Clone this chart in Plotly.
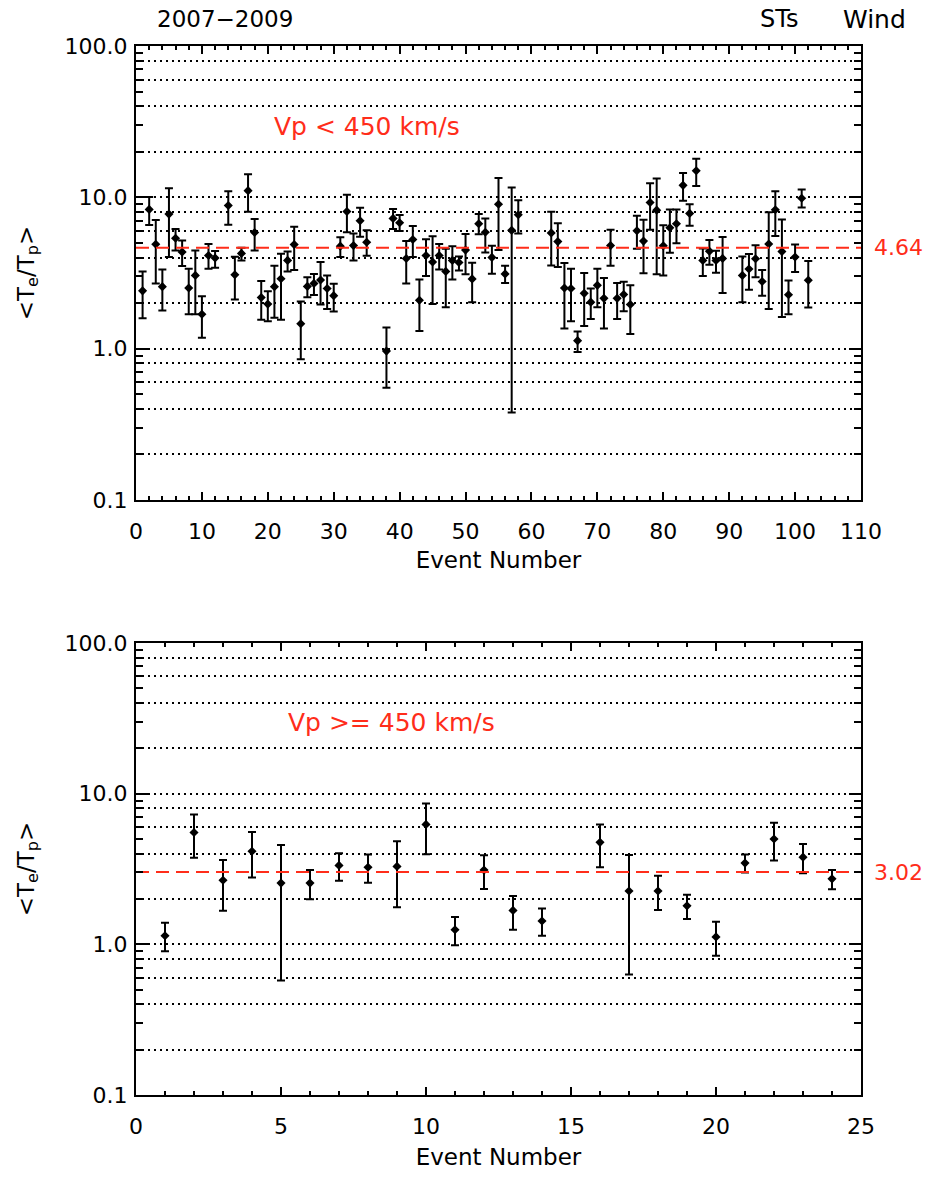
import plotly.graph_objects as go
import math

# ---------------- data: top panel (Vp < 450 km/s) ----------------
top_event = [1, 2, 3, 4, 5, 6, 7, 8, 9, 10, 11, 12,
             14, 15, 16, 17, 18, 19, 20, 21, 22, 23, 24, 25, 26, 27, 28, 29, 30, 31, 32, 33, 34, 35,
             38, 39, 40, 41, 42, 43, 44, 45, 46, 47, 48, 49, 50, 51, 52, 53, 54, 55, 56, 57, 58,
             63, 64, 65, 66, 67, 68, 69, 70, 71, 72, 73, 74, 75, 76, 77, 78, 79, 80, 81, 82, 83, 84, 85, 86, 87, 88, 89,
             92, 93, 94, 95, 96, 97, 98, 99, 100, 101, 102]
top_value = [2.41, 8.32, 4.90, 2.57, 7.75, 5.37, 4.35, 2.52, 3.05, 1.69, 4.13, 3.97,
             8.83, 3.08, 4.26, 11.07, 5.85, 2.18, 1.97, 2.57, 2.90, 3.83, 4.87, 1.46, 2.58, 2.70, 2.84, 2.50, 2.24, 4.76, 8.07, 4.80, 7.00, 5.05,
             0.964, 7.26, 6.79, 3.94, 5.26, 2.09, 4.13, 3.74, 4.13, 3.24, 3.83, 3.71, 4.48, 2.89, 6.69, 5.88, 4.01, 9.01, 3.12, 6.05, 7.67,
             5.82, 5.10, 2.52, 2.50, 1.13, 2.32, 2.03, 2.62, 2.15, 4.80, 2.15, 2.28, 1.96, 6.02, 5.14, 9.24, 8.23, 4.78, 6.30, 6.69, 12.0, 7.83, 15.0, 3.83, 4.41, 3.83, 3.95,
             3.05, 3.36, 3.93, 2.78, 4.92, 8.27, 4.38, 2.27, 4.03, 9.87, 2.83]
top_upper = [3.24, 10.06, 7.08, 3.33, 11.5, 6.18, 5.18, 3.38, 4.45, 2.22, 4.92, 4.42,
             10.96, 4.05, 4.64, 14.2, 7.18, 2.80, 2.40, 3.53, 4.24, 4.39, 6.40, 2.05, 2.96, 3.11, 3.74, 3.05, 2.69, 5.45, 10.4, 5.76, 8.52, 6.05,
             1.38, 8.36, 7.63, 5.14, 6.47, 2.86, 5.28, 5.53, 4.92, 4.57, 4.76, 4.07, 5.73, 3.70, 7.75, 7.26, 4.78, 13.4, 3.53, 11.6, 9.57,
             8.02, 6.73, 3.68, 3.38, 1.30, 3.16, 2.50, 3.38, 2.93, 6.11, 2.72, 2.77, 2.62, 7.55, 7.11, 12.4, 13.3, 6.53, 8.32, 8.32, 14.5, 9.01, 18.0, 4.59, 5.23, 4.43, 5.47,
             4.07, 4.22, 4.83, 3.31, 7.98, 10.96, 7.15, 2.82, 4.87, 11.25, 3.79]
top_lower = [1.59, 6.56, 2.70, 1.79, 4.03, 4.45, 3.52, 1.69, 1.69, 1.18, 3.38, 3.43,
             6.59, 2.11, 3.83, 8.02, 4.45, 1.55, 1.52, 1.60, 1.55, 3.24, 3.31, 0.85, 2.19, 2.26, 1.96, 1.83, 1.76, 4.03, 5.88, 3.83, 5.50, 4.11,
             0.552, 6.18, 6.00, 2.70, 4.03, 1.31, 3.02, 1.97, 3.34, 1.88, 2.87, 3.29, 3.10, 2.03, 5.70, 4.32, 3.13, 4.49, 2.72, 0.378, 5.76,
             3.55, 3.46, 1.36, 1.52, 0.95, 1.41, 1.57, 1.88, 1.36, 3.53, 1.57, 1.77, 1.25, 4.57, 3.15, 6.11, 3.10, 3.05, 4.30, 4.98, 9.48, 6.50, 11.9, 3.02, 3.59, 3.18, 2.33,
             2.03, 2.45, 2.96, 2.24, 1.83, 5.56, 1.62, 1.69, 3.21, 8.57, 1.87]
top_mean = 4.64

# ---------------- data: bottom panel (Vp >= 450 km/s) ----------------
bot_event = [1, 2, 3, 4, 5, 6, 7, 8, 9, 10, 11, 12, 13, 14, 16, 17, 18, 19, 20, 21, 22, 23, 24]
bot_value = [1.14, 5.53, 2.66, 4.15, 2.55, 2.55, 3.34, 3.25, 3.29, 6.25, 1.25, 3.11,
             1.68, 1.43, 4.75, 2.26, 2.26, 1.80, 1.12, 3.46, 5.00, 3.79, 2.72]
bot_upper = [1.39, 7.27, 3.63, 5.56, 4.56, 3.11, 4.02, 3.94, 4.83, 8.59, 1.52, 3.90,
             2.09, 1.73, 6.25, 3.92, 2.85, 2.13, 1.41, 3.94, 6.41, 4.63, 3.11]
bot_lower = [0.90, 3.75, 1.67, 2.78, 0.576, 1.99, 2.64, 2.56, 1.76, 3.96, 0.985, 2.33,
             1.25, 1.14, 3.25, 0.63, 1.69, 1.47, 0.84, 3.00, 3.60, 2.96, 2.32]
bot_mean = 3.02

# ---------------- axis definitions ----------------
top_xrange = [0, 110]
top_xticks = list(range(0, 111, 10))
bot_xrange = [0, 25]
bot_xticks = list(range(0, 26, 5))
y_major = [0.1, 1, 10, 100]
y_major_text = ["0.1", "1.0", "10.0", "100.0"]
y_minor = [m * d for d in (0.1, 1, 10) for m in range(2, 10)]
y_grid = [m * d for d in (0.1, 1, 10) for m in (2, 4, 6, 8)] + [1, 10]

FONT = "DejaVu Sans"
RED = "#ff2d1a"
BLACK = "black"

fig = go.Figure()


def add_panel(ev, val, up, lo, mean, xrange_, xa, ya, ygrid):
    # invisible trace so that the dotted-grid overlay axis gets drawn
    fig.add_trace(go.Scatter(x=[None], y=[None], xaxis=xa, yaxis=ygrid, mode="markers",
                             showlegend=False, hoverinfo="skip"))
    fig.add_trace(go.Scatter(
        x=ev, y=val, mode="markers", xaxis=xa, yaxis=ya,
        marker=dict(symbol="diamond", size=7, color=BLACK),
        error_y=dict(type="data", symmetric=False,
                     array=[u - v for u, v in zip(up, val)],
                     arrayminus=[v - l for v, l in zip(val, lo)],
                     color=BLACK, thickness=2, width=4),
        showlegend=False, hoverinfo="x+y"))
    fig.add_trace(go.Scatter(
        x=xrange_, y=[mean, mean], mode="lines", xaxis=xa, yaxis=ya,
        line=dict(color=RED, width=2, dash="13px,7px"),
        showlegend=False, hoverinfo="skip"))


add_panel(top_event, top_value, top_upper, top_lower, top_mean, top_xrange, "x", "y", "y3")
add_panel(bot_event, bot_value, bot_upper, bot_lower, bot_mean, bot_xrange, "x2", "y2", "y4")

top_dom = [0.5672, 1.0]
bot_dom = [0.0, 0.4309]


def xaxis_def(rng, ticks, minor_dtick, anchor, standoff):
    return dict(range=rng, anchor=anchor, domain=[0, 1], tickmode="array", tickvals=ticks,
                ticks="inside", ticklen=8, tickwidth=1.5, tickcolor=BLACK,
                minor=dict(dtick=minor_dtick, ticks="inside", ticklen=4, tickwidth=1.5, tickcolor=BLACK),
                showline=True, linewidth=2, linecolor=BLACK, mirror="ticks",
                showgrid=False, zeroline=False,
                tickfont=dict(family=FONT, size=22, color=BLACK), ticklabelstandoff=11,
                title=dict(text="Event Number", font=dict(family=FONT, size=23, color=BLACK),
                           standoff=standoff))


def yaxis_def(dom, anchor):
    return dict(type="log", range=[-1, 2], domain=dom, anchor=anchor,
                tickmode="array", tickvals=y_major, ticktext=y_major_text,
                ticks="inside", ticklen=12, tickwidth=1.5, tickcolor=BLACK,
                minor=dict(tickmode="array", tickvals=y_minor, ticks="inside", ticklen=7,
                           tickwidth=1.5, tickcolor=BLACK, showgrid=False),
                showline=True, linewidth=2, linecolor=BLACK, mirror="ticks",
                showgrid=False, zeroline=False,
                tickfont=dict(family=FONT, size=22, color=BLACK), ticklabelstandoff=2,
                title=dict(text="&lt;T<sub>e</sub>/T<sub>p</sub>&gt;",
                           font=dict(family=FONT, size=23, color=BLACK), standoff=24))


def grid_def(over, anchor):
    return dict(type="log", range=[-1, 2], overlaying=over, anchor=anchor,
                tickmode="array", tickvals=y_grid, ticks="", showticklabels=False,
                showline=False, zeroline=False, showgrid=True,
                gridcolor=BLACK, gridwidth=1.6, griddash="2px,4px")


fig.update_layout(
    width=932, height=1178,
    margin=dict(l=136, r=71, t=46, b=76),
    paper_bgcolor="white", plot_bgcolor="white",
    font=dict(family=FONT, color=BLACK),
    xaxis=xaxis_def(top_xrange, top_xticks, 2, "y", 8),
    yaxis=yaxis_def(top_dom, "x"),
    xaxis2=xaxis_def(bot_xrange, bot_xticks, 1, "y2", 10),
    yaxis2=yaxis_def(bot_dom, "x2"),
    yaxis3=grid_def("y", "x"),
    yaxis4=grid_def("y2", "x2"),
)

TITLE_Y = 1.0256
ann = []
ann.append(dict(text="2007−2009", xref="paper", yref="paper", x=0.026, y=TITLE_Y,
                xanchor="left", yanchor="middle", showarrow=False,
                font=dict(family=FONT, size=23, color=BLACK)))
ann.append(dict(text="STs", xref="paper", yref="paper", x=0.916, y=TITLE_Y,
                xanchor="right", yanchor="middle", showarrow=False,
                font=dict(family=FONT, size=24, color=BLACK)))
ann.append(dict(text="Wind", xref="paper", yref="paper", x=1.065, y=TITLE_Y,
                xanchor="right", yanchor="middle", showarrow=False,
                font=dict(family=FONT, size=25, color=BLACK)))
ann.append(dict(text="Vp &lt; 450 km/s", xref="x domain", yref="y domain", x=0.3186, y=0.8228,
                xanchor="center", yanchor="middle", showarrow=False,
                font=dict(family=FONT, size=25, color=RED)))
ann.append(dict(text="Vp &gt;= 450 km/s", xref="x2 domain", yref="y2 domain", x=0.3524, y=0.8248,
                xanchor="center", yanchor="middle", showarrow=False,
                font=dict(family=FONT, size=25, color=RED)))
ann.append(dict(text=f"{top_mean:.2f}", xref="x domain", yref="y", x=1.0145, y=math.log10(top_mean),
                xanchor="left", yanchor="middle", showarrow=False,
                font=dict(family=FONT, size=22, color=RED)))
ann.append(dict(text=f"{bot_mean:.2f}", xref="x2 domain", yref="y2", x=1.0145, y=math.log10(bot_mean),
                xanchor="left", yanchor="middle", showarrow=False,
                font=dict(family=FONT, size=22, color=RED)))
fig.update_layout(annotations=ann)

# remove the browser's default 8px page margin so the 932x1178 figure fills the window exactly
fig.write_html("out.html",
               config={"displayModeBar": False},
               post_script="document.body.style.margin='0';"
                           "document.documentElement.style.overflow='hidden';")
